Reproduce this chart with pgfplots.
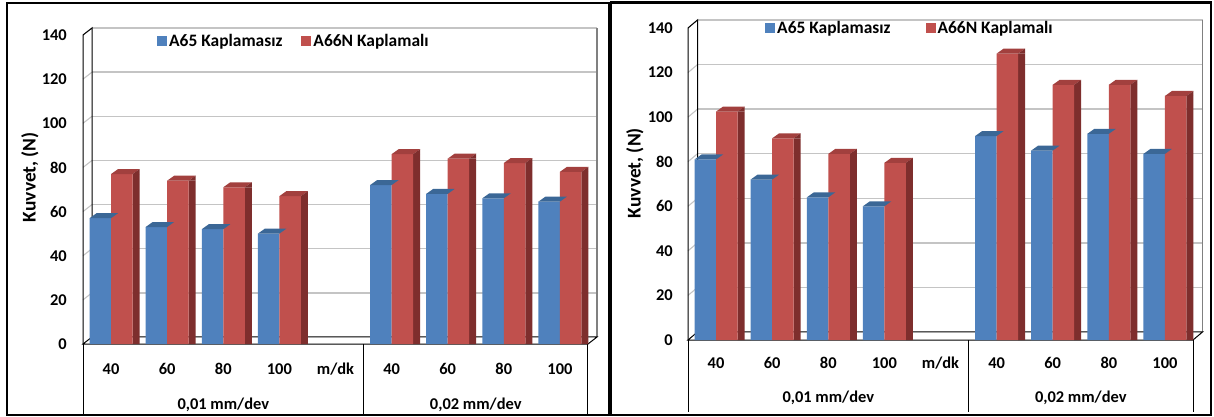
\documentclass[border=0pt]{standalone}
\usepackage{pgfplots}
\pgfplotsset{compat=1.18}
\usepackage{fontspec}
\setmainfont{Carlito}
\definecolor{bfront}{HTML}{4F81BD}
\definecolor{btop}{HTML}{3B6796}
\definecolor{rfront}{HTML}{C0504D}
\definecolor{rtop}{HTML}{A2403E}
\definecolor{rside}{HTML}{7E2E2D}
\definecolor{gridg}{HTML}{C4C4C4}

\pgfdeclareplotmark{btopm}{%
  \pgfsetfillcolor{btop}%
  \pgfpathmoveto{\pgfpoint{-21.5bp}{0bp}}%
  \pgfpathlineto{\pgfpoint{0bp}{0bp}}%
  \pgfpathlineto{\pgfpoint{7bp}{5bp}}%
  \pgfpathlineto{\pgfpoint{-14.5bp}{5bp}}%
  \pgfpathclose\pgfusepath{fill}}
\pgfdeclareplotmark{rtopm}{%
  \pgfsetfillcolor{rtop}%
  \pgfpathmoveto{\pgfpoint{0bp}{0bp}}%
  \pgfpathlineto{\pgfpoint{21.5bp}{0bp}}%
  \pgfpathlineto{\pgfpoint{28.5bp}{5bp}}%
  \pgfpathlineto{\pgfpoint{7bp}{5bp}}%
  \pgfpathclose\pgfusepath{fill}%
  \pgfsetfillcolor{rside}%
  \pgfpathmoveto{\pgfpoint{21.5bp}{0bp}}%
  \pgfpathlineto{\pgfpoint{28.5bp}{5bp}}%
  \pgfpathlineto{\pgfpoint{28.5bp}{0bp}}%
  \pgfpathclose\pgfusepath{fill}}

\pgfplotstableread{
x blue red
0 57 77
1 53 74
2 52 71
3 50 67
5 72 86
6 68 84
7 66 82
8 64.5 78
}\leftdata
\pgfplotstableread{
x blue red
0 81 102.5
1 72 90.5
2 64 83.5
3 60 79.5
5 91.5 128.5
6 85 114.5
7 92.5 114.5
8 83.5 109.5
}\rightdata

\newcommand{\lfont}{\fontsize{16.5}{19}\selectfont\bfseries}
\newcommand{\legfont}{\fontsize{17.5}{20}\selectfont\bfseries}
\newcommand{\yfont}{\fontsize{19.5}{22}\selectfont\bfseries}

\pgfplotsset{
  panel/.style={
    scale only axis, width=505bp,
    xmin=-0.5, xmax=8.5, ymin=0, ymax=140,
    ytick={0,20,...,140},
    xtick={0,...,8},
    xticklabels={40,60,80,100,m/dk,40,60,80,100},
    major tick length=0pt,
    axis line style={draw=none},
    clip=false,
    tick label style={font=\lfont},
    /pgf/number format/assume math mode=true,
    ylabel={Kuvvet, (N)},
    ylabel style={font=\yfont, anchor=center},
    legend style={draw=none, fill=none, legend columns=2, font=\legfont,
      inner sep=0pt, anchor=west,
      nodes={inner sep=2bp}},
    legend cell align=left,
  },
}

\newcommand{\drawframe}[4]{% #1 dx #2 dy #3 table depth
  \pgfplotsinvokeforeach{20,40,...,140}{
    \draw[gridg, line width=1.3bp] ([xshift=#1,yshift=#2]axis cs:-0.5,##1) -- ([xshift=#1,yshift=#2]axis cs:8.5,##1);
    \draw[gridg, line width=1.1bp] (axis cs:-0.5,##1) -- ([xshift=#1,yshift=#2]axis cs:-0.5,##1);
  }
  \draw[gray, line width=1.3bp] ([xshift=#1,yshift=#2]axis cs:8.5,0) -- ([xshift=#1,yshift=#2]axis cs:8.5,140);
  \draw[black, line width=1bp] (axis cs:-0.5,0) -- (axis cs:-0.5,140) -- ([xshift=#1,yshift=#2]axis cs:-0.5,140) -- ([xshift=#1,yshift=#2]axis cs:-0.5,0);
  \draw[black, line width=1bp] (axis cs:-0.5,0) -- ([xshift=#1,yshift=#2]axis cs:-0.5,0) -- ([xshift=#1,yshift=#2]axis cs:8.5,0) -- (axis cs:8.5,0) -- cycle;
  \draw[black, line width=1bp] (axis cs:-0.5,0) -- ([yshift=-#3]axis cs:-0.5,0);
  \draw[black, line width=1bp] (axis cs:4.5,0) -- ([yshift=-#3]axis cs:4.5,0);
  \draw[black, line width=1bp] (axis cs:8.5,0) -- ([yshift=-#3]axis cs:8.5,0);
}

\begin{document}
\begin{tikzpicture}
\useasboundingbox (0bp,0bp) rectangle (1214bp,417bp);

% ---------------- left panel ----------------
\begin{axis}[panel, at={(83bp,73bp)}, anchor=south west, height=309bp,
  yticklabel style={anchor=east, inner sep=0pt, xshift=-16bp},
  xticklabel style={anchor=center, inner sep=0pt, yshift=-25bp},
  ylabel style={at={(axis description cs:-0.105,0.54)}},
  legend style={at={(0.1465,0.98)}, /tikz/every even column/.append style={column sep=17bp}},
]
\drawframe{9bp}{7bp}{71bp}{}
\addplot[ybar, bar width=21.5bp, bar shift=-10.75bp, fill=bfront, draw=none,
  legend image code/.code={\fill[bfront] (0bp,-5bp) rectangle (10bp,5bp);}]
  table[x=x, y=blue] {\leftdata};
\addlegendentry{A65 Kaplamasız}
\addplot[only marks, mark=btopm, forget plot] table[x=x, y=blue] {\leftdata};
\addplot[ybar, bar width=7bp, bar shift=25bp, fill=rside, draw=none, forget plot]
  table[x=x, y=red] {\leftdata};
\addplot[ybar, bar width=21.5bp, bar shift=10.75bp, fill=rfront, draw=none,
  legend image code/.code={\fill[rfront] (0bp,-5bp) rectangle (10bp,5bp);}]
  table[x=x, y=red] {\leftdata};
\addlegendentry{A66N Kaplamalı}
\addplot[only marks, mark=rtopm, forget plot] table[x=x, y=red] {\leftdata};
\node[font=\lfont] at ([yshift=-61bp]axis cs:2,0) {0,01 mm/dev};
\node[font=\lfont] at ([yshift=-61bp]axis cs:6.5,0) {0,02 mm/dev};
\end{axis}

% ---------------- right panel ----------------
\begin{axis}[panel, at={(688bp,77bp)}, anchor=south west, height=312bp,
  yticklabel style={anchor=east, inner sep=0pt, xshift=-15bp},
  xticklabel style={anchor=center, inner sep=0pt, yshift=-23bp},
  ylabel style={at={(axis description cs:-0.105,0.535)}},
  legend style={at={(0.1525,1.0)}, /tikz/every even column/.append style={column sep=33bp}},
]
\drawframe{9.5bp}{8bp}{72bp}{}
\addplot[ybar, bar width=21.5bp, bar shift=-10.75bp, fill=bfront, draw=none,
  legend image code/.code={\fill[bfront] (0bp,-5bp) rectangle (10bp,5bp);}]
  table[x=x, y=blue] {\rightdata};
\addlegendentry{A65 Kaplamasız}
\addplot[only marks, mark=btopm, forget plot] table[x=x, y=blue] {\rightdata};
\addplot[ybar, bar width=7bp, bar shift=25bp, fill=rside, draw=none, forget plot]
  table[x=x, y=red] {\rightdata};
\addplot[ybar, bar width=21.5bp, bar shift=10.75bp, fill=rfront, draw=none,
  legend image code/.code={\fill[rfront] (0bp,-5bp) rectangle (10bp,5bp);}]
  table[x=x, y=red] {\rightdata};
\addlegendentry{A66N Kaplamalı}
\addplot[only marks, mark=rtopm, forget plot] table[x=x, y=red] {\rightdata};
\node[font=\lfont] at ([yshift=-58bp]axis cs:2,0) {0,01 mm/dev};
\node[font=\lfont] at ([yshift=-58bp]axis cs:6.5,0) {0,02 mm/dev};
\end{axis}

% panel frames
\draw[black, line width=2.5bp] (7bp,2bp) rectangle (609bp,414bp);
\draw[black, line width=2.5bp] (611bp,2bp) rectangle (1211bp,414.5bp);
\end{tikzpicture}
\end{document}
